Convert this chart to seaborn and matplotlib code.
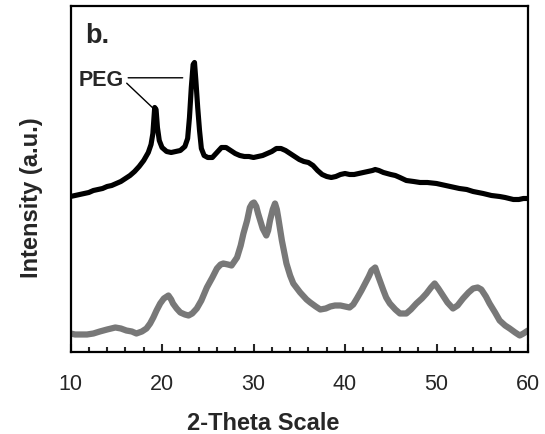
import matplotlib
matplotlib.use("Agg")
import matplotlib.pyplot as plt
import seaborn as sns
import pandas as pd
from matplotlib.ticker import MultipleLocator

# ---- data (2-theta, intensity in arbitrary units) ----
peg_theta = [10.0, 10.5, 11.0, 11.5, 12.0, 12.5, 13.0, 13.5, 14.0, 14.5, 15.0, 15.5,
             16.0, 16.5, 17.0, 17.5, 18.0, 18.5, 18.8, 19.0, 19.1, 19.2, 19.35, 19.5,
             19.7, 20.0, 20.5, 21.0, 21.5, 22.0, 22.5, 22.8, 23.0, 23.2, 23.4, 23.55,
             23.7, 23.9, 24.1, 24.3, 24.6, 25.0, 25.5, 26.0, 26.5, 27.0, 27.5, 28.0,
             28.5, 29.0, 29.5, 30.0, 30.5, 31.0, 31.5, 32.0, 32.5, 33.0, 33.5, 34.0,
             34.5, 35.0, 35.5, 36.0, 36.5, 37.0, 37.5, 38.0, 38.5, 39.0, 39.5, 40.0,
             40.5, 41.0, 41.5, 42.0, 42.5, 43.0, 43.3, 43.7, 44.2, 45.0, 45.5, 46.0,
             46.7, 47.5, 48.2, 49.0, 50.0, 51.0, 51.5, 52.5, 53.3, 54.0, 55.1, 56.0,
             56.9, 57.5, 58.4, 59.0, 59.5, 60.0]
peg_intensity = [156, 157, 158, 159, 160, 162, 163, 164, 166, 167, 169, 171,
                 174, 177, 181, 186, 192, 200, 208, 219, 232, 245, 243, 225,
                 212, 205, 201, 200, 201, 202, 206, 214, 235, 265, 288, 290,
                 272, 245, 222, 204, 197, 195, 195, 200, 205, 205, 202, 199,
                 197, 196, 196, 195, 196, 197, 199, 201, 204, 204, 202, 199,
                 196, 193, 191, 190, 187, 182, 178, 176, 175, 176, 178, 179,
                 178, 178, 179, 180, 181, 182, 183, 182, 180, 178, 177, 175,
                 172, 171, 170, 170, 169, 167, 166, 164, 163, 161, 159, 157,
                 156, 155, 153, 153, 154, 154]

np_theta = [10.0, 10.5, 11.0, 11.8, 12.5, 13.2, 14.0, 14.9, 15.5, 16.1, 16.7, 17.2,
            17.8, 18.3, 18.7, 19.05, 19.4, 19.8, 20.2, 20.7, 21.0, 21.2, 21.6, 22.0,
            22.5, 22.9, 23.3, 23.8, 24.3, 24.9, 25.5, 26.0, 26.4, 26.7, 27.2, 27.6,
            28.2, 28.6, 28.9, 29.3, 29.6, 29.85, 30.05, 30.3, 30.5, 31.0, 31.4, 31.6,
            31.8, 32.1, 32.35, 32.55, 32.7, 33.1, 33.6, 34.0, 34.35, 35.1, 35.8, 36.2,
            36.8, 37.3, 37.9, 38.4, 38.9, 39.5, 40.0, 40.5, 40.9, 41.3, 41.8, 42.2,
            42.6, 42.9, 43.3, 43.6, 44.0, 44.2, 44.5, 44.9, 45.5, 46.0, 46.7, 47.2,
            47.8, 48.4, 48.9, 49.4, 49.8, 50.2, 50.7, 51.2, 51.8, 52.3, 52.9, 53.5,
            54.0, 54.5, 54.9, 55.4, 55.8, 56.4, 56.9, 57.5, 58.0, 58.6, 59.1, 59.5, 60.0]
np_intensity = [19, 18, 18, 18, 19, 21, 23, 25, 24, 22, 21, 19,
                21, 24, 29, 35, 42, 49, 54, 57, 53, 49, 44, 40,
                38, 37, 39, 44, 52, 65, 75, 84, 88, 89, 88, 87,
                95, 107, 119, 132, 145, 149, 150, 146, 139, 124, 117, 122,
                132, 143, 149, 143, 135, 112, 89, 77, 69, 60, 53, 50,
                46, 43, 44, 46, 47, 47, 46, 45, 48, 54, 62, 69,
                76, 82, 85, 77, 67, 62, 55, 49, 43, 39, 39, 43,
                49, 54, 59, 65, 69, 64, 57, 50, 44, 47, 54, 60,
                64, 65, 63, 56, 49, 40, 32, 27, 24, 20, 17, 19, 22]

x_ticks = [10, 20, 30, 40, 50, 60]
x_label = "2-Theta Scale"
y_label = "Intensity (a.u.)"
panel_label = "b."
peak_label = "PEG"

# ---- styling ----
sns.set_style("white")
plt.rcParams["font.family"] = ["Liberation Sans", "DejaVu Sans"]

fig = plt.figure(figsize=(5.45, 4.34), dpi=100)
ax = fig.add_axes([0.1294, 0.1878, 0.8394, 0.7984])

df_peg = pd.DataFrame({"theta": peg_theta, "intensity": peg_intensity})
df_np = pd.DataFrame({"theta": np_theta, "intensity": np_intensity})

sns.lineplot(data=df_np, x="theta", y="intensity", ax=ax, color="#787878",
             linewidth=4.5, estimator=None, sort=False)
sns.lineplot(data=df_peg, x="theta", y="intensity", ax=ax, color="#000000",
             linewidth=3.7, estimator=None, sort=False)

ax.set_xlim(10, 60)
ax.set_ylim(0, 346.5)
ax.set_xticks(x_ticks)
ax.xaxis.set_minor_locator(MultipleLocator(2))
ax.set_yticks([])
ax.tick_params(axis="x", which="major", direction="in", length=5.5, width=1.5,
               labelsize=15.5, pad=15.5, bottom=True, top=False)
ax.tick_params(axis="x", which="minor", direction="in", length=3.5, width=1.5,
               bottom=True, top=False)

for sp in ax.spines.values():
    sp.set_visible(True)
    sp.set_linewidth(1.6)
    sp.set_color("black")

ax.set_xlabel(x_label, fontsize=17, fontweight="bold")
ax.set_ylabel(y_label, fontsize=17, fontweight="bold")
ax.xaxis.set_label_coords(0.421, -0.171)
ax.yaxis.set_label_coords(-0.0595, 0.446)

ax.text(0.032, 0.893, panel_label, transform=ax.transAxes, fontsize=19.5,
        fontweight="bold", ha="left", va="baseline")
ax.text(15.8, 272, peak_label, fontsize=15.5, fontweight="bold",
        ha="right", va="center")
ax.annotate("", xy=(22.26, 274.7), xytext=(16.3, 274.7),
            arrowprops=dict(arrowstyle="-", color="black", lw=1.0,
                            shrinkA=0, shrinkB=0))
ax.annotate("", xy=(18.98, 244.7), xytext=(16.14, 269.3),
            arrowprops=dict(arrowstyle="-", color="black", lw=1.0,
                            shrinkA=0, shrinkB=0))

fig.savefig("out.png", dpi=100)
